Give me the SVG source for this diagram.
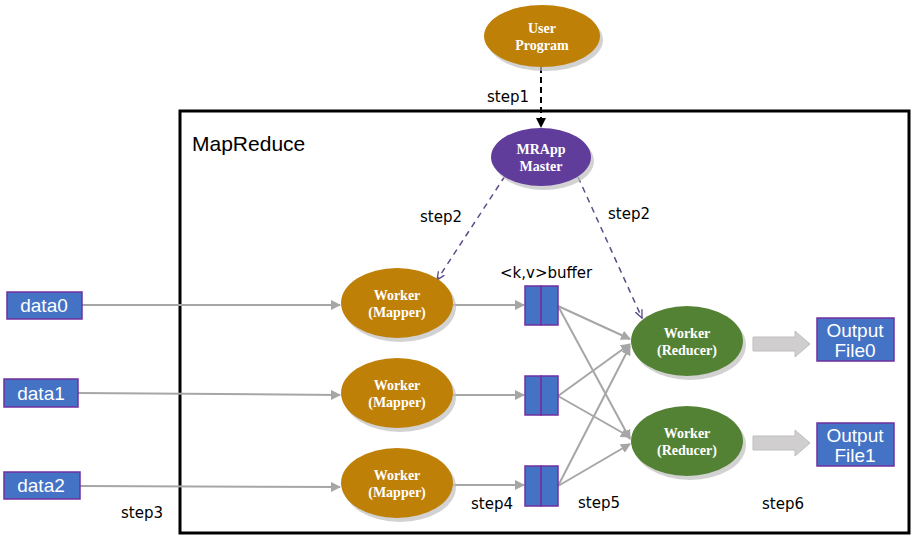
<svg xmlns="http://www.w3.org/2000/svg" width="924" height="547" viewBox="0 0 924 547">
<style>
.nt{font-family:"Liberation Serif",serif;font-weight:bold;font-size:14px;fill:#fff;text-anchor:middle}
.lb{font-family:"DejaVu Sans","Liberation Sans",sans-serif;font-size:15px;fill:#000}
.bx{fill:#4472C4;stroke:#7030A0;stroke-width:1.5}
.bt{font-family:"Liberation Sans","Noto Sans",sans-serif;font-size:19px;fill:#fff;text-anchor:middle}
.gl{stroke:#A6A6A6;stroke-width:2;fill:none;marker-end:url(#ga)}
.sh{fill:#BFBFBF;opacity:0.7}
</style>
<defs>
<marker id="ga" viewBox="0 0 10 10" refX="9" refY="5" markerWidth="5" markerHeight="5" orient="auto"><path d="M0,0 L10,5 L0,10 z" fill="#A6A6A6"/></marker>
<marker id="ka" viewBox="0 0 10 10" refX="9" refY="5" markerWidth="5" markerHeight="5" orient="auto"><path d="M0,0 L10,5 L0,10 z" fill="#000"/></marker>
<marker id="pa" viewBox="0 0 10 10" refX="9" refY="5" markerWidth="6" markerHeight="6" orient="auto"><path d="M0,1 L9,5 L0,9" fill="none" stroke="#5F4B8B" stroke-width="1.5"/></marker>
</defs>
<rect width="924" height="547" fill="#fff"/>
<rect x="180" y="111" width="729" height="422" fill="none" stroke="#000" stroke-width="3"/>
<text x="192" y="151" font-family="Liberation Sans,sans-serif" font-size="21" fill="#000">MapReduce</text>

<g id="connectors">
<line x1="541" y1="67" x2="541" y2="127" stroke="#000" stroke-width="2" stroke-dasharray="6,4" marker-end="url(#ka)"/>
<line x1="505" y1="176" x2="437" y2="280" stroke="#5F4B8B" stroke-width="1.5" stroke-dasharray="6,5" marker-end="url(#pa)"/>
<line x1="578" y1="177" x2="642" y2="318" stroke="#5F4B8B" stroke-width="1.5" stroke-dasharray="6,5" marker-end="url(#pa)"/>
<line class="gl" x1="82" y1="305" x2="340" y2="305"/>
<line class="gl" x1="78" y1="393" x2="340" y2="395"/>
<line class="gl" x1="80" y1="486" x2="340" y2="487"/>
<line class="gl" x1="453" y1="305" x2="524" y2="305"/>
<line class="gl" x1="453" y1="395" x2="524" y2="395"/>
<line class="gl" x1="453" y1="485" x2="524" y2="485"/>
<line class="gl" x1="558" y1="306" x2="630" y2="339"/>
<line class="gl" x1="558" y1="306" x2="630" y2="439"/>
<line class="gl" x1="558" y1="396" x2="630" y2="344"/>
<line class="gl" x1="558" y1="396" x2="630" y2="437"/>
<line class="gl" x1="558" y1="486" x2="630" y2="346"/>
<line class="gl" x1="558" y1="486" x2="630" y2="444"/>
<path d="M753,337 H795 V331 L810,344 L795,357 V351 H753 z" fill="#D0CECE" stroke="#BFBFBF"/>
<path d="M753,436 H795 V430 L810,443 L795,456 V450 H753 z" fill="#D0CECE" stroke="#BFBFBF"/>
</g>

<g id="user-program"><ellipse class="sh" cx="545" cy="40" rx="58" ry="31"/><ellipse cx="542" cy="36" rx="58" ry="31" fill="#BF8008"/><text class="nt" x="542" y="33">User</text><text class="nt" x="542" y="50">Program</text></g>
<g id="mrapp-master"><ellipse class="sh" cx="544" cy="161" rx="50" ry="29"/><ellipse cx="541" cy="157" rx="50" ry="29" fill="#603C9B"/><text class="nt" x="541" y="154">MRApp</text><text class="nt" x="541" y="171">Master</text></g>

<g id="mapper0"><ellipse class="sh" cx="400" cy="307" rx="56" ry="35"/><ellipse cx="397" cy="303" rx="56" ry="35" fill="#BF8008"/><text class="nt" x="397" y="300">Worker</text><text class="nt" x="397" y="317">(Mapper)</text></g>
<g id="mapper1"><ellipse class="sh" cx="400" cy="397" rx="56" ry="35"/><ellipse cx="397" cy="393" rx="56" ry="35" fill="#BF8008"/><text class="nt" x="397" y="390">Worker</text><text class="nt" x="397" y="407">(Mapper)</text></g>
<g id="mapper2"><ellipse class="sh" cx="400" cy="487" rx="56" ry="35"/><ellipse cx="397" cy="483" rx="56" ry="35" fill="#BF8008"/><text class="nt" x="397" y="480">Worker</text><text class="nt" x="397" y="497">(Mapper)</text></g>

<g id="reducer0"><ellipse class="sh" cx="690" cy="345" rx="56" ry="35"/><ellipse cx="687" cy="341" rx="56" ry="35" fill="#548235"/><text class="nt" x="687" y="338">Worker</text><text class="nt" x="687" y="355">(Reducer)</text></g>
<g id="reducer1"><ellipse class="sh" cx="690" cy="445" rx="56" ry="35"/><ellipse cx="687" cy="441" rx="56" ry="35" fill="#548235"/><text class="nt" x="687" y="438">Worker</text><text class="nt" x="687" y="455">(Reducer)</text></g>

<g id="buffer0"><rect class="bx" x="525" y="286" width="16" height="39"/><rect class="bx" x="541" y="286" width="17" height="39"/></g>
<g id="buffer1"><rect class="bx" x="525" y="376" width="16" height="39"/><rect class="bx" x="541" y="376" width="17" height="39"/></g>
<g id="buffer2"><rect class="bx" x="525" y="466" width="16" height="40"/><rect class="bx" x="541" y="466" width="17" height="40"/></g>

<g id="data0"><rect class="bx" x="7" y="292" width="75" height="27"/><text class="bt" x="44" y="312">data0</text></g>
<g id="data1"><rect class="bx" x="4" y="379" width="74" height="28"/><text class="bt" x="41" y="400">data1</text></g>
<g id="data2"><rect class="bx" x="4" y="472" width="76" height="27"/><text class="bt" x="41" y="492">data2</text></g>

<g id="output0"><rect class="bx" x="817" y="318" width="77" height="43"/><text class="bt" x="855" y="337">Output</text><text class="bt" x="855" y="357">File0</text></g>
<g id="output1"><rect class="bx" x="817" y="423" width="77" height="43"/><text class="bt" x="855" y="442">Output</text><text class="bt" x="855" y="462">File1</text></g>

<text class="lb" x="487" y="102">step1</text>
<text class="lb" x="420" y="222">step2</text>
<text class="lb" x="608" y="219">step2</text>
<text class="lb" x="500" y="278">&lt;k,v&gt;buffer</text>
<text class="lb" x="121" y="518">step3</text>
<text class="lb" x="471" y="509">step4</text>
<text class="lb" x="578" y="508">step5</text>
<text class="lb" x="762" y="509">step6</text>
</svg>
